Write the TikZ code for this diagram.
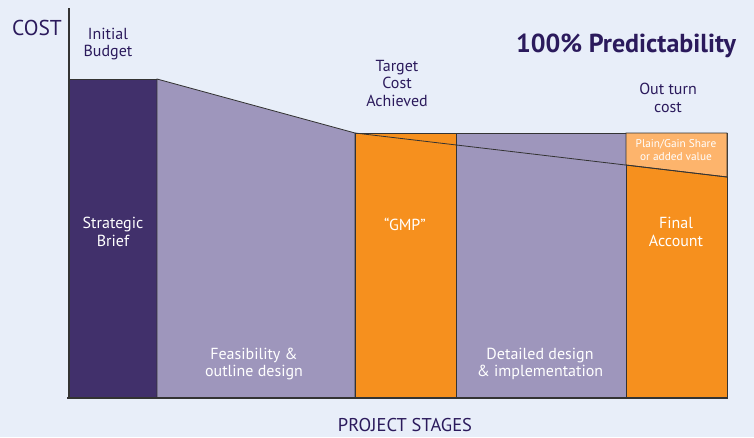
\documentclass[tikz,border=0pt]{standalone}
\usepackage{fontspec}
\setmainfont{PT Sans}
\definecolor{bgblue}{HTML}{E8EEF9}
\definecolor{darkpurple}{HTML}{41306B}
\definecolor{lightpurple}{HTML}{9E96BC}
\definecolor{stageorange}{HTML}{F6901E}
\definecolor{paleorange}{HTML}{FDB46C}
\definecolor{inkpurple}{HTML}{2B1A5C}
\definecolor{edgegrey}{HTML}{333333}

\begin{document}
\begin{tikzpicture}[x=1pt,y=-1pt,
    outline/.style={draw=edgegrey,line width=0.8pt},
    toplabel/.style={text=inkpurple,align=center,font=\fontsize{16}{17.5}\selectfont},
    stagelabel/.style={text=white,align=center,font=\fontsize{16}{17.5}\selectfont}]
    \fill[bgblue] (0,0) rectangle (754,437);
    % stages
    \filldraw[darkpurple,outline] (69,79) rectangle (157,398);
    \filldraw[fill=lightpurple,outline] (157,79) -- (355,133) -- (355,398) -- (157,398) -- cycle;
    \filldraw[fill=stageorange,outline] (355,133) rectangle (456,398);
    \filldraw[fill=lightpurple,outline] (456,133) rectangle (626,398);
    \filldraw[fill=stageorange,outline] (626,133) rectangle (727,398);
    \filldraw[fill=paleorange,outline] (626,133) -- (727,133) -- (727,177) -- (626,165) -- cycle;
    \draw[outline] (355,133) -- (727,177);
    % axes
    \draw[edgegrey,line width=1.3pt] (69,8) -- (69,399);
    \draw[edgegrey,line width=1.3pt] (67,398) -- (727,398);
    % labels
    \node[text=inkpurple,font=\fontsize{21.5}{25}\selectfont] (cost) at (37,28) {COST};
    \node[text=inkpurple,font=\fontsize{18.5}{22}\selectfont] (stages) at (405,425) {PROJECT STAGES};
    \node[text=inkpurple,font=\bfseries\fontsize{26}{30}\selectfont] (predict) at (626,46) {100\% Predictability};
    \node[toplabel] (initial) at (108,44) {Initial\\Budget};
    \node[toplabel] (target) at (397,83) {Target\\Cost\\Achieved};
    \node[toplabel] (outturn) at (668,98) {Out turn\\cost};
    \node[stagelabel] (brief) at (113,232) {Strategic\\Brief};
    \node[stagelabel] (feas) at (254,364) {Feasibility \&\\outline design};
    \node[stagelabel] (gmp) at (405,224) {``GMP''};
    \node[stagelabel] (detail) at (540,364) {Detailed design\\\& implementation};
    \node[stagelabel] (final) at (676,232) {Final\\Account};
    \node[text=white,align=center,font=\fontsize{11.3}{13}\selectfont] (share) at (676,150) {Plain/Gain Share\\or added value};
\end{tikzpicture}
\end{document}
